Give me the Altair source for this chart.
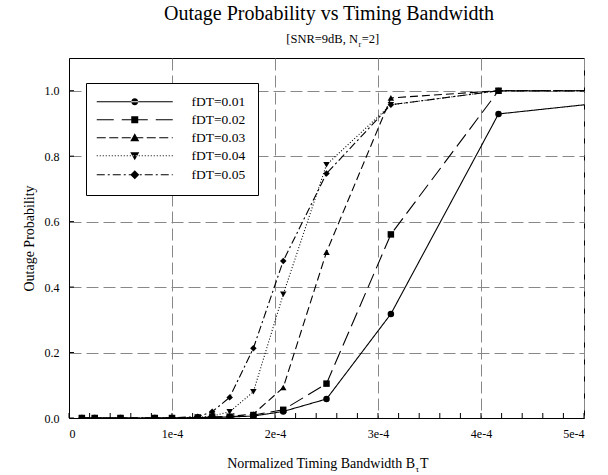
import altair as alt
import pandas as pd

FONT = "Liberation Serif"
W, H = 515, 360

# ---- data ----
bt = [1.25e-5, 2.5e-5, 5e-5, 8.33e-5, 1e-4, 1.25e-4, 1.39e-4, 1.56e-4,
      1.79e-4, 2.08e-4, 2.5e-4, 3.125e-4, 4.17e-4, 6.25e-4]
series_names = ["fDT=0.01", "fDT=0.02", "fDT=0.03", "fDT=0.04", "fDT=0.05"]
p_001 = [0, 0, 0, 0, 0, 0.001, 0.002, 0.003, 0.006, 0.020, 0.058, 0.318, 0.929, 0.999]
p_002 = [0, 0, 0, 0, 0, 0.001, 0.002, 0.004, 0.009, 0.025, 0.105, 0.561, 1.0, 1.0]
p_003 = [0, 0, 0, 0, 0, 0.001, 0.003, 0.005, 0.012, 0.093, 0.507, 0.978, 1.0, 1.0]
p_004 = [0, 0, 0, 0, 0, 0.002, 0.006, 0.019, 0.080, 0.378, 0.774, 0.957, 1.0, 1.0]
p_005 = [0, 0, 0, 0, 0.001, 0.004, 0.019, 0.063, 0.213, 0.480, 0.747, 0.957, 1.0, 1.0]

x_ticks = [0, 1e-4, 2e-4, 3e-4, 4e-4, 5e-4]
x_minor = [0, 2e-5, 4e-5, 6e-5, 8e-5, 1e-4, 1.2e-4, 1.4e-4, 1.6e-4, 1.8e-4, 2e-4,
           2.2e-4, 2.4e-4, 2.6e-4, 2.8e-4, 3e-4, 3.2e-4, 3.4e-4, 3.6e-4, 3.8e-4,
           4e-4, 4.2e-4, 4.4e-4, 4.6e-4, 4.8e-4, 5e-4]
y_ticks = [0.0, 0.2, 0.4, 0.6, 0.8, 1.0]

title_text = "Outage Probability vs Timing Bandwidth"
sub_main, sub_sub, sub_tail = "[SNR=9dB, N", "r", "=2]"
xt_main, xt_sub, xt_tail = "Normalized Timing Bandwidth B", "\u03c4", "T"
y_title = "Outage Probability"

rows = []
for name, vals in zip(series_names, [p_001, p_002, p_003, p_004, p_005]):
    for x, p in zip(bt, vals):
        rows.append({"bt": x, "p": p, "series": name})
df = pd.DataFrame(rows)

# ---- styles ----
dash_range = [[1, 0], [15, 6], [8, 4], [1, 2], [8, 3, 2, 3]]
shape_range = ["circle", "square", "triangle-up", "triangle-down", "diamond"]

X0 = -8  # legend sample line start, relative to the symbol anchor


def dashed(pattern, length=76):
    # legend line sample drawn as thin filled rectangles (1 px tall)
    segs = []
    pos = 0.0
    i = 0
    while pos < length:
        d = pattern[i % len(pattern)]
        if i % 2 == 0:
            end = min(pos + d, length)
            a, b = X0 + pos, X0 + end
            segs.append(f"M{a:g},-0.5H{b:g}V0.5H{a:g}Z")
        pos += d
        i += 1
    return "".join(segs)


c = X0 + 38
markers = [
    f"M{c-3.5},0A3.5,3.5 0 1,0 {c+3.5},0A3.5,3.5 0 1,0 {c-3.5},0Z",
    f"M{c-3.5},-3.5H{c+3.5}V3.5H{c-3.5}Z",
    f"M{c},-4.5L{c+4.5},3.5L{c-4.5},3.5Z",
    f"M{c},4.5L{c+4.5},-3.5L{c-4.5},-3.5Z",
    f"M{c},-4.5L{c+4.5},0L{c},4.5L{c-4.5},0Z",
]
legend_dash = [[76, 1], [17, 8, 26, 8, 17, 1], [9, 3.5], [1, 2], [8, 3, 2, 3]]
legend_paths = [dashed(d) + m for d, m in zip(legend_dash, markers)]

xs = alt.Scale(domain=[0, 5e-4], nice=False, zero=False)
ys = alt.Scale(domain=[0, 1.1], nice=False)

x_axis = alt.Axis(values=x_ticks, title=None, grid=True,
                  labelExpr="datum.value == 0 ? '0' : round(datum.value*10000) + 'e-4'")
y_axis = alt.Axis(values=y_ticks, format=".1f", title=y_title, grid=True)

x_enc = alt.X("bt:Q", scale=xs, axis=x_axis)
y_enc = alt.Y("p:Q", scale=ys, axis=y_axis)

lines = alt.Chart(df).mark_line(color="black", strokeWidth=1.1, clip=True).encode(
    x=x_enc, y=y_enc,
    strokeDash=alt.StrokeDash("series:N", scale=alt.Scale(domain=series_names, range=dash_range), legend=None),
)

points = alt.Chart(df).mark_point(filled=True, color="black", opacity=1, size=42, clip=True).encode(
    x=x_enc, y=y_enc,
    shape=alt.Shape("series:N", scale=alt.Scale(domain=series_names, range=shape_range), legend=None),
)

legend_layer = alt.Chart(df).transform_filter("false").mark_point(
    filled=True, color="black", opacity=1
).encode(
    x=x_enc, y=y_enc,
    shape=alt.Shape(
        "series:N", title=None,
        scale=alt.Scale(domain=series_names, range=legend_paths),
        legend=alt.Legend(
            orient="none", legendX=17, legendY=25, padding=12,
            strokeColor="black", fillColor="white",
            labelFont=FONT, labelFontSize=13.5, labelColor="black",
            labelOffset=80, symbolSize=4,
            symbolFillColor="black", symbolOpacity=1,
            rowPadding=3,
            labelExpr="datum.label + '\u00a0\u00a0\u00a0\u00a0\u00a0'",
        ),
    ),
)

xtick_layer = alt.Chart(pd.DataFrame({"bt": x_minor})).mark_rule(color="black", strokeWidth=1).encode(
    x=x_enc, y=alt.value(H), y2=alt.value(H - 5)
)
ytick_layer = alt.Chart(pd.DataFrame({"p": y_ticks})).mark_rule(color="black", strokeWidth=1).encode(
    y=y_enc, x=alt.value(0), x2=alt.value(5)
)


def text_layer(s, x, y, size, align):
    return alt.Chart(pd.DataFrame({"label": [s]})).mark_text(
        font=FONT, fontSize=size, color="black", align=align, baseline="alphabetic"
    ).encode(x=alt.value(x), y=alt.value(y), text="label:N")


sx = 289
tx = 346
texts = [
    text_layer(title_text, 260, -38, 20, "center"),
    text_layer(sub_main, sx, -15, 12.5, "right"),
    text_layer(sub_sub, sx + 0.5, -11, 8.5, "left"),
    text_layer(sub_tail, sx + 3.8, -15, 12.5, "left"),
    text_layer(xt_main, tx, H + 50, 14, "right"),
    text_layer(xt_sub, tx + 0.5, H + 54, 9, "left"),
    text_layer(xt_tail, tx + 5, H + 50, 14, "left"),
]

chart = alt.layer(
    lines, points, legend_layer, xtick_layer, ytick_layer, *texts
).resolve_scale(
    shape="independent"
).properties(
    width=W, height=H,
    padding={"left": 69, "top": 58, "right": 24, "bottom": 57},
    autosize=alt.AutoSizeParams(type="none"),
).configure_view(
    stroke="black", strokeWidth=1
).configure_axis(
    domainColor="black", domainWidth=1,
    ticks=False, tickSize=0,
    labelFont=FONT, labelFontSize=12, labelColor="black", labelPadding=10,
    titleFont=FONT, titleFontSize=14, titleFontWeight="normal", titleColor="black",
    titlePadding=8,
    gridColor="#888888", gridDash=[12, 5], gridWidth=1, gridOpacity=1,
)

chart.save("out.html", embed_options={"renderer": "svg", "actions": False})
